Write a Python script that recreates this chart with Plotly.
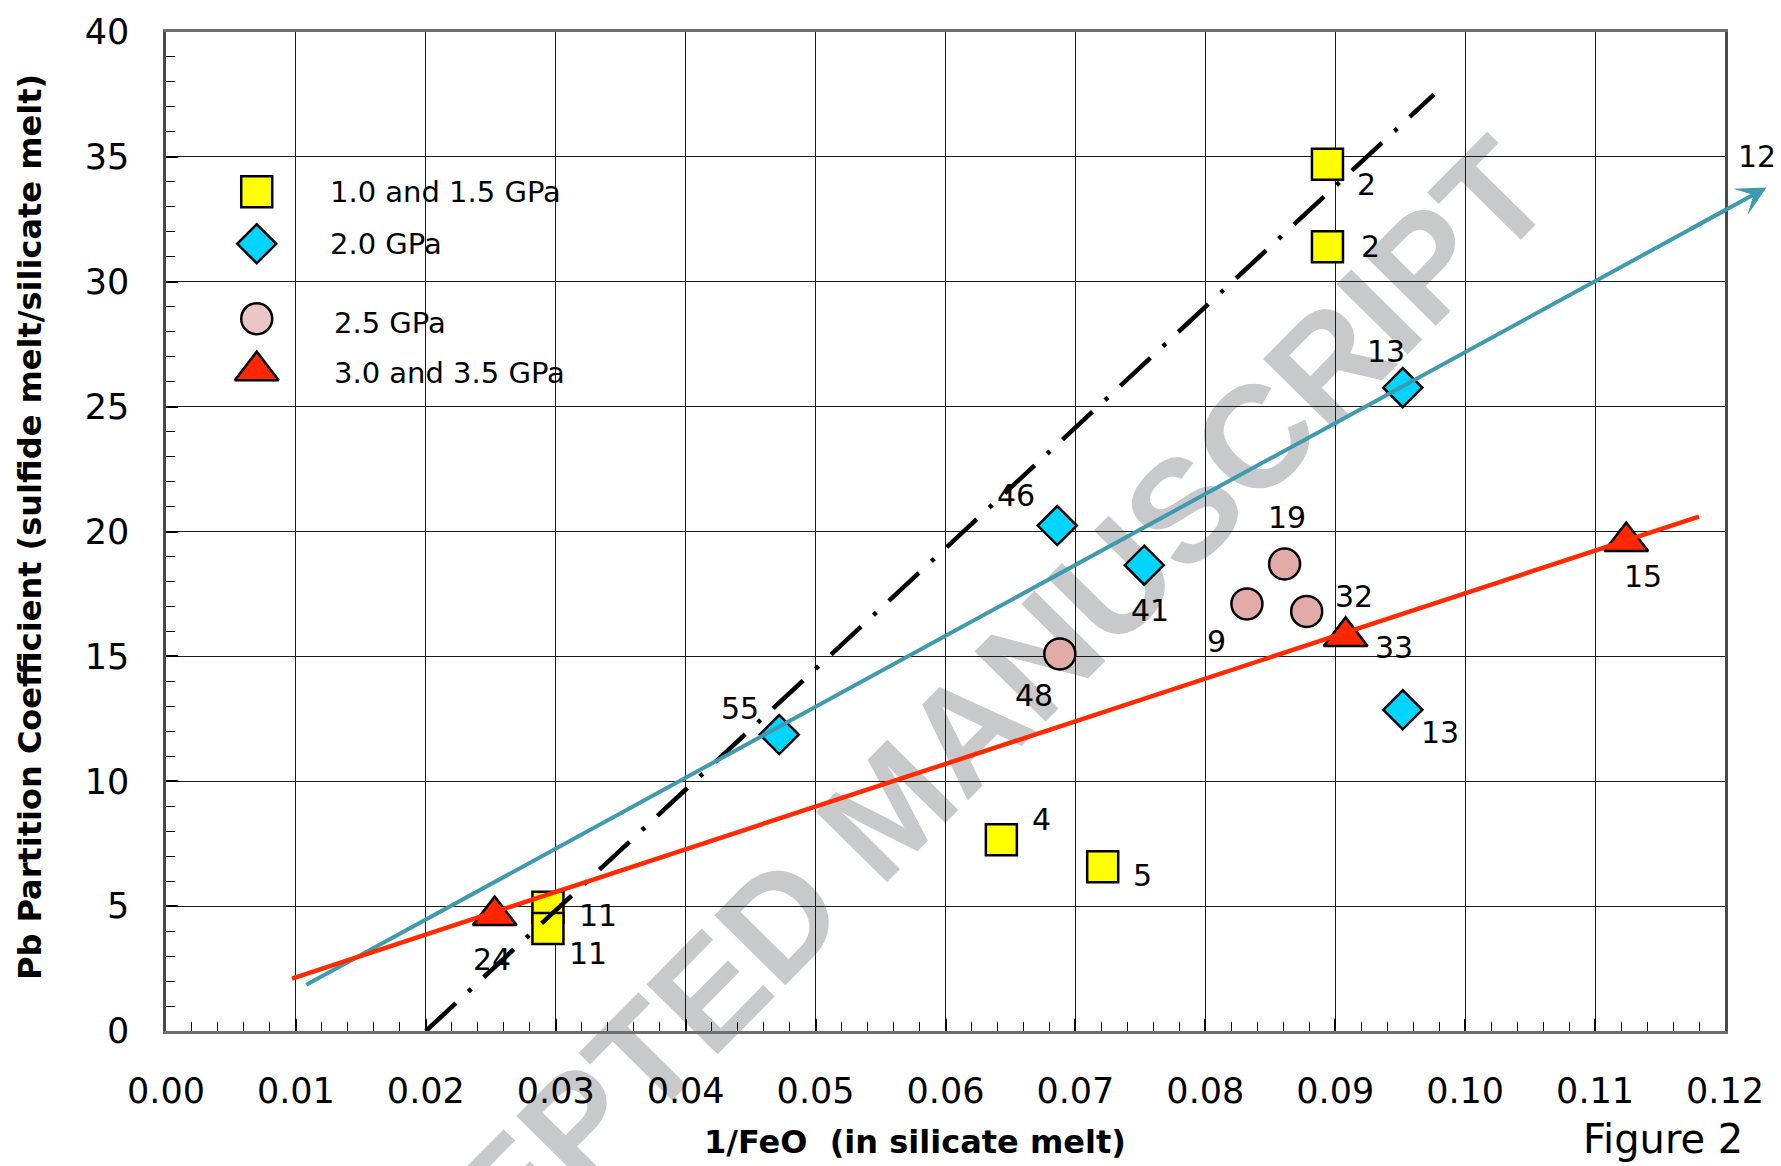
import plotly.graph_objects as go

# ---------------- data ----------------
sq_x = [0.0894, 0.0894, 0.0643, 0.0721, 0.0294, 0.0294]
sq_y = [34.7, 31.4, 7.66, 6.58, 4.95, 4.10]
sq_lab = ["2", "2", "4", "5", "11", "11"]

di_x = [0.0472, 0.0686, 0.0753, 0.0952, 0.0952]
di_y = [11.87, 20.24, 18.65, 25.76, 12.86]
di_lab = ["55", "46", "41", "13", "13"]

ci_x = [0.0688, 0.0861, 0.0832, 0.0878]
ci_y = [15.1, 18.7, 17.1, 16.8]
ci_lab = ["48", "19", "9", "32"]

tr_x = [0.0253, 0.0908, 0.1124]
tr_y = [4.62, 15.8, 19.6]
tr_lab = ["24", "33", "15"]

teal_x = [0.0108, 0.1232]
teal_y = [1.85, 33.77]
teal_lab = "12"

red_x = [0.0097, 0.1180]
red_y = [2.10, 20.6]

blk_x = [0.0200, 0.0976]
blk_y = [0.0, 37.5]

x_range = [0.0, 0.12]
y_range = [0, 40]
x_ticks = [0.00, 0.01, 0.02, 0.03, 0.04, 0.05, 0.06, 0.07, 0.08, 0.09, 0.10, 0.11, 0.12]
y_ticks = [0, 5, 10, 15, 20, 25, 30, 35, 40]

legend_names = ["1.0 and 1.5 GPa", "2.0 GPa", "2.5 GPa", "3.0 and 3.5 GPa"]

# ---------------- styles ----------------
FONT = "DejaVu Sans"
YELLOW = "#FFFF00"
CYAN = "#00D4FF"
PINK = "#E3ABA8"
PINK_LEG = "#EAC6C6"
RED_T = "#FF2600"
TEAL = "#3F9AB0"
RED_L = "#FF2A00"
EDGE = dict(color="black", width=2.5)

sq_off = [(39, 20), (43, 0), (40, -20), (40, 9), (50, 8), (40, 25)]
di_off = [(-39, -26), (-41, -30), (6, 45), (-17, -36), (37, 23)]
ci_off = [(-26, 42), (2, -46), (-30, 38), (47, -15)]
tr_off = [(-3, 44), (48, 11), (17, 35)]

fig = go.Figure()

# data markers
fig.add_trace(go.Scatter(x=sq_x, y=sq_y, mode="markers", name=legend_names[0],
                         marker=dict(symbol="square", size=31, color=YELLOW, line=EDGE),
                         showlegend=False))
fig.add_trace(go.Scatter(x=di_x, y=di_y, mode="markers", name=legend_names[1],
                         marker=dict(symbol="diamond", size=30, color=CYAN, line=EDGE),
                         showlegend=False))
fig.add_trace(go.Scatter(x=ci_x, y=ci_y, mode="markers", name=legend_names[2],
                         marker=dict(symbol="circle", size=31, color=PINK, line=EDGE),
                         showlegend=False))
fig.add_trace(go.Scatter(x=tr_x, y=tr_y, mode="markers", name=legend_names[3],
                         marker=dict(symbol="triangle-up", size=38, color=RED_T, line=EDGE),
                         showlegend=False))

# trend lines (drawn above the markers, as in the reference)
fig.add_trace(go.Scatter(x=blk_x, y=blk_y, mode="lines",
                         line=dict(color="black", width=4.5, dash="41px,17px,4px,17px"),
                         showlegend=False, hoverinfo="skip"))
fig.add_trace(go.Scatter(x=teal_x, y=teal_y, mode="lines",
                         line=dict(color=TEAL, width=4), showlegend=False, hoverinfo="skip"))
fig.add_trace(go.Scatter(x=red_x, y=red_y, mode="lines",
                         line=dict(color=RED_L, width=4.5), showlegend=False, hoverinfo="skip"))

# point labels
annotations = []
for xs, ys, labs, offs in [(sq_x, sq_y, sq_lab, sq_off), (di_x, di_y, di_lab, di_off),
                           (ci_x, ci_y, ci_lab, ci_off), (tr_x, tr_y, tr_lab, tr_off)]:
    for x, y, t, (dx, dy) in zip(xs, ys, labs, offs):
        annotations.append(dict(x=x, y=y, xref="x", yref="y", text=t, showarrow=False,
                                xshift=dx, yshift=-dy, xanchor="center", yanchor="middle",
                                font=dict(family=FONT, size=30, color="black")))

# arrow head on the teal line and its label
slope = (teal_y[1] - teal_y[0]) / (teal_x[1] - teal_x[0])
annotations.append(dict(x=teal_x[1], y=teal_y[1], xref="x", yref="y",
                        ax=teal_x[1] - 0.006, ay=teal_y[1] - 0.006 * slope,
                        axref="x", ayref="y", text="", showarrow=True,
                        arrowhead=3, arrowsize=1.25, arrowwidth=4, arrowcolor=TEAL))
# the end of the teal line lies outside the x range, so place its label in paper units
tip_px = (teal_x[1] - x_range[0]) / (x_range[1] - x_range[0])
tip_py = (teal_y[1] - y_range[0]) / (y_range[1] - y_range[0])
annotations.append(dict(x=tip_px, y=tip_py, xref="paper", yref="paper", text=teal_lab,
                        showarrow=False, xshift=-10, yshift=31,
                        xanchor="center", yanchor="middle",
                        font=dict(family=FONT, size=30, color="black")))

# legend (drawn on an overlay axis spanning the plot area)
leg_y = [0.840, 0.788, 0.713, 0.661]
leg_sym = ["square", "diamond", "circle", "triangle-up"]
leg_col = [YELLOW, CYAN, PINK_LEG, RED_T]
leg_size = [31, 30, 31, 38]
for yy, s, c, sz, nm in zip(leg_y, leg_sym, leg_col, leg_size, legend_names):
    fig.add_trace(go.Scatter(x=[0.0582], y=[yy], xaxis="x2", yaxis="y2", mode="markers",
                             marker=dict(symbol=s, size=sz, color=c, line=EDGE),
                             showlegend=False, hoverinfo="skip", name=nm))
leg_tx = [0.1039, 0.1039, 0.1063, 0.1063]
leg_ty = [0.840, 0.788, 0.709, 0.659]
for tx, ty, nm in zip(leg_tx, leg_ty, legend_names):
    annotations.append(dict(x=tx, y=ty, xref="paper", yref="paper", text=nm, showarrow=False,
                            xanchor="left", yanchor="middle",
                            font=dict(family=FONT, size=29, color="black")))

# axis titles and figure caption
annotations.append(dict(x=(914.5 - 166) / 1559, y=(1031 - 1142) / 1003, xref="paper", yref="paper",
                        text="1/FeO  (in silicate melt)", showarrow=False,
                        xanchor="center", yanchor="middle",
                        font=dict(family=FONT, size=32, color="black", weight="bold")))
annotations.append(dict(x=(30 - 166) / 1559, y=(1031 - 525) / 1003, xref="paper", yref="paper",
                        text="Pb Partition Coefficient (sulfide melt/silicate melt)",
                        showarrow=False, textangle=-90, xanchor="center", yanchor="middle",
                        font=dict(family=FONT, size=32, color="black", weight="bold")))
annotations.append(dict(x=(1663 - 166) / 1559, y=(1031 - 1139) / 1003, xref="paper", yref="paper",
                        text="Figure 2", showarrow=False, xanchor="center", yanchor="middle",
                        font=dict(family=FONT, size=40, color="black")))

# watermark (below gridlines)
wx, wy = 0.458, 0.233
shapes = [dict(type="rect", xref="paper", yref="paper", x0=wx - 0.005, x1=wx + 0.005,
               y0=wy - 0.005, y1=wy + 0.005, line=dict(width=0), fillcolor="rgba(0,0,0,0)",
               layer="below",
               label=dict(text="ACCEPTED MANUSCRIPT", textangle=-45.4, textposition="middle center",
                          font=dict(family="Liberation Sans", size=145, color="#C8C9CB", weight="bold")))]

fig.update_layout(
    width=1781, height=1166,
    margin=dict(l=166, r=56, t=28, b=135),
    paper_bgcolor="white", plot_bgcolor="rgba(0,0,0,0)",
    showlegend=False,
    annotations=annotations,
    shapes=shapes,
    xaxis=dict(range=x_range, tickvals=x_ticks, tickformat=".2f",
               showgrid=True, gridcolor="#1a1a1a", gridwidth=1,
               ticks="inside", ticklen=12, tickwidth=1.5, tickcolor="black",
               minor=dict(dtick=0.002, ticks="inside", ticklen=9, tickwidth=1.2, tickcolor="black", showgrid=False),
               showline=True, linecolor="#6f6f6f", linewidth=3, mirror=True,
               tickfont=dict(family=FONT, size=35, color="black"),
               ticklabelstandoff=27, zeroline=False),
    yaxis=dict(range=y_range, tickvals=y_ticks,
               showgrid=True, gridcolor="#1a1a1a", gridwidth=1,
               ticks="inside", ticklen=12, tickwidth=1.5, tickcolor="black",
               minor=dict(dtick=1, ticks="inside", ticklen=9, tickwidth=1.2, tickcolor="black", showgrid=False),
               showline=True, linecolor="#4a4a4a", linewidth=2.5, mirror=True,
               tickfont=dict(family=FONT, size=35, color="black"),
               ticklabelstandoff=27, zeroline=False),
    xaxis2=dict(overlaying="x", range=[0, 1], visible=False, fixedrange=True),
    yaxis2=dict(overlaying="y", range=[0, 1], visible=False, fixedrange=True),
)

fig.write_html("out.html", config={"displayModeBar": False},
               post_script="document.body.style.margin='0';document.body.style.overflow='hidden';")
